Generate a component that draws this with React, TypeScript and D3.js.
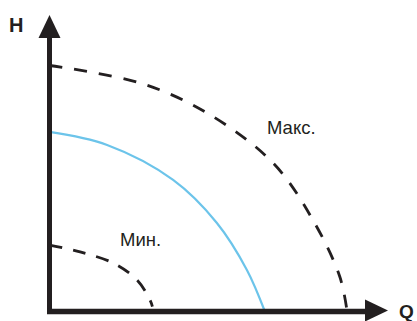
import React from "react";
import { scaleLinear, line, curveCatmullRom } from "d3";

// pump curves: Q (flow) and H (head), both 0..100
const maxQ = [0, 30.2, 52.5, 74.5, 87.8, 96.8, 99.2];
const maxH = [100, 92.9, 80.7, 60.4, 37.2, 14, 0];
const midQ = [0, 19.2, 41.2, 55.8, 65.8, 71.8];
const midH = [73, 67.7, 53.5, 36, 16.9, 0];
const minQ = [0, 10.2, 21.2, 29.2, 33.5, 34.3];
const minH = [27, 24.2, 19.7, 12.8, 4.7, 2];

const labels = [
  { text: "Макс.", q: 72.5, h: 72 },
  { text: "Мин.", q: 23.5, h: 26.6 },
];

const W = 417;
const H = 321;
const ink = "#231f20";
const font = "'Liberation Sans', Arial, sans-serif";

const x = scaleLinear().domain([0, 100]).range([49.5, 349.5]);
const y = scaleLinear().domain([0, 100]).range([311.5, 65.5]);

const toPts = (qs: number[], hs: number[]) => qs.map((q, i) => [q, hs[i]] as [number, number]);

const path = line<[number, number]>()
  .x((d) => x(d[0]))
  .y((d) => y(d[1]))
  .curve(curveCatmullRom.alpha(0.5));

export default function App() {
  const ox = x(0);
  const oy = y(0);
  const topY = 15;
  const rightX = 388;
  const aw = 11;
  const al = 23;

  return (
    <svg
      width={W}
      height={H}
      style={{ position: "absolute", left: 0, top: 0, background: "#fff" }}
    >
      <path
        d={path(toPts(maxQ, maxH)) || ""}
        fill="none"
        stroke={ink}
        strokeWidth={2.8}
        strokeDasharray="13 12"
      />
      <path
        d={path(toPts(minQ, minH)) || ""}
        fill="none"
        stroke={ink}
        strokeWidth={2.8}
        strokeDasharray="13 11"
      />
      <path
        d={path(toPts(midQ, midH)) || ""}
        fill="none"
        stroke="#6cc4ea"
        strokeWidth={2.2}
      />

      {/* axes */}
      <line x1={ox} y1={oy + 2.5} x2={ox} y2={topY + al - 1} stroke={ink} strokeWidth={5} />
      <line x1={ox - 2.5} y1={oy} x2={rightX - al + 1} y2={oy} stroke={ink} strokeWidth={5.5} />
      <polygon
        points={`${ox},${topY} ${ox - aw},${topY + al} ${ox + aw},${topY + al}`}
        fill={ink}
      />
      <polygon
        points={`${rightX},${oy - 1} ${rightX - al},${oy - 1 - aw} ${rightX - al},${oy - 1 + aw}`}
        fill={ink}
      />

      <text x={9} y={32} fontFamily={font} fontWeight="bold" fontSize={20} fill={ink}>
        H
      </text>
      <text x={399} y={317.5} fontFamily={font} fontWeight="bold" fontSize={19} fill={ink}>
        Q
      </text>

      {labels.map((l) => (
        <text
          key={l.text}
          x={x(l.q)}
          y={y(l.h)}
          fontFamily={font}
          fontSize={18.5}
          fill={ink}
        >
          {l.text}
        </text>
      ))}
    </svg>
  );
}
